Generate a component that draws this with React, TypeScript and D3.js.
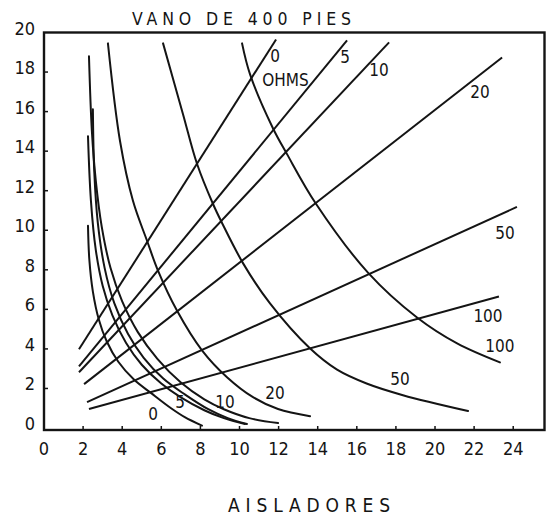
import React from "react";
import * as d3 from "d3";

type Pt = [number, number];

const xTicks = [0, 2, 4, 6, 8, 10, 12, 14, 16, 18, 20, 22, 24];
const yTicks = [0, 2, 4, 6, 8, 10, 12, 14, 16, 18, 20];

// rising straight lines (resistance in ohms)
const risingNames = ["0", "5", "10", "20", "50", "100"];
const rising0: Pt[] = [[1.79, 3.98], [11.87, 19.65]];
const rising5: Pt[] = [[1.79, 3.12], [15.5, 19.6]];
const rising10: Pt[] = [[1.79, 2.82], [17.65, 19.5]];
const rising20: Pt[] = [[2.05, 2.22], [23.43, 18.74]];
const rising50: Pt[] = [[2.2, 1.31], [24.19, 11.18]];
const rising100: Pt[] = [[2.3, 0.96], [23.27, 6.65]];
const risingLines = [rising0, rising5, rising10, rising20, rising50, rising100];

// falling curves
const fall0: Pt[] = [[2.25, 10.23], [2.32, 8.5], [2.5, 6.9], [2.8, 5.5], [3.2, 4.4], [3.8, 3.35], [4.6, 2.45], [5.5, 1.75], [6.5, 1.0], [7.2, 0.55], [8.08, 0.12]];
const fall5: Pt[] = [[2.25, 14.76], [2.4, 11.5], [2.65, 9.0], [3.0, 7.2], [3.5, 5.7], [4.2, 4.3], [5.0, 3.2], [6.0, 2.25], [7.0, 1.55], [8.2, 0.9], [9.2, 0.5], [10.28, 0.2]];
const fall5b: Pt[] = [[2.5, 16.12], [2.57, 13.0], [2.75, 10.4], [3.1, 8.1], [3.6, 6.3], [4.3, 4.75], [5.1, 3.55], [6.1, 2.5], [7.2, 1.7], [8.4, 0.95], [9.4, 0.5], [10.38, 0.2]];
const fall10: Pt[] = [[2.3, 18.8], [2.45, 15.0], [2.65, 12.5], [2.95, 10.2], [3.4, 8.1], [4.0, 6.4], [4.8, 4.85], [5.8, 3.5], [7.0, 2.3], [8.2, 1.45], [9.2, 0.95], [10.5, 0.5], [11.97, 0.25]];
const fall20: Pt[] = [[3.27, 19.45], [3.89, 14.5], [4.55, 11.49], [5.27, 9.47], [5.83, 7.96], [6.8, 5.94], [8.08, 3.93], [9.36, 2.57], [10.69, 1.56], [11.97, 0.96], [13.61, 0.6]];
const fall50: Pt[] = [[6.09, 19.45], [7.11, 15.87], [7.83, 13.35], [8.64, 11.34], [9.1, 10.38], [10.2, 8.3], [11.56, 6.3], [13.6, 4.03], [14.99, 2.95], [16.5, 2.25], [18.36, 1.66], [21.69, 0.86]];
const fall100: Pt[] = [[10.13, 19.45], [10.54, 17.88], [11.71, 15.16], [12.43, 13.85], [13.91, 11.34], [16.57, 7.86], [19.08, 5.59], [21.13, 4.28], [23.32, 3.32]];
const fallingCurves = [fall0, fall5, fall5b, fall10, fall20, fall50, fall100];

// curve labels (text, data x, data y)
const labelTexts = ["0", "OHMS", "5", "10", "20", "50", "100", "100", "50", "20", "10", "5", "0"];
const labelX = [11.82, 12.35, 15.4, 17.14, 22.3, 23.58, 22.71, 23.32, 18.21, 11.82, 9.26, 6.96, 5.58];
const labelY = [18.74, 17.53, 18.69, 18.04, 16.93, 9.82, 5.59, 4.08, 2.42, 1.71, 1.26, 1.26, 0.65];

const titleText = "VANO DE 400 PIES";
const xAxisTitle = "AISLADORES";

const W = 557;
const H = 525;
const FONT = "'DejaVu Sans Condensed', 'DejaVu Sans', sans-serif";
const INK = "#141414";

export default function App() {
  const x = d3.scaleLinear().domain([0, 25.6]).range([44, 544.5]);
  const y = d3.scaleLinear().domain([-0.1, 20]).range([430, 32.5]);

  const straight = d3.line<Pt>().x((d) => x(d[0])).y((d) => y(d[1]));
  const smooth = d3
    .line<Pt>()
    .x((d) => x(d[0]))
    .y((d) => y(d[1]))
    .curve(d3.curveCatmullRom.alpha(0.5));

  return (
    <svg
      width={W}
      height={H}
      style={{ position: "absolute", left: 0, top: 0, background: "#fff" }}
    >
      <rect x={0} y={0} width={W} height={H} fill="#fff" />
      {/* title */}
      <text
        x={132}
        y={25}
        textLength={219}
        lengthAdjust="spacing"
        fontFamily={FONT}
        fontSize={17.5}
        fill={INK}
      >
        {titleText}
      </text>

      {/* frame */}
      <rect
        x={x(0)}
        y={y(20)}
        width={x(25.6) - x(0)}
        height={y(-0.1) - y(20)}
        fill="none"
        stroke={INK}
        strokeWidth={2.4}
      />

      {/* x ticks */}
      {xTicks.map((t) => (
        <g key={"xt" + t}>
          {t > 0 && (
            <line x1={x(t)} x2={x(t)} y1={y(-0.1)} y2={y(-0.1) - 4} stroke={INK} strokeWidth={1.5} />
          )}
          <text
            x={x(t)}
            y={450}
            textAnchor="middle"
            dominantBaseline="middle"
            fontFamily={FONT}
            fontSize={18}
            fill={INK}
          >
            {t}
          </text>
        </g>
      ))}

      {/* y ticks */}
      {yTicks.map((t) => (
        <g key={"yt" + t}>
          {t > 0 && t < 20 && (
            <line x1={x(0)} x2={x(0) + 4} y1={y(t)} y2={y(t)} stroke={INK} strokeWidth={1.5} />
          )}
          <text
            x={35}
            y={y(t) - 3}
            textAnchor="end"
            dominantBaseline="middle"
            fontFamily={FONT}
            fontSize={18}
            fill={INK}
          >
            {t}
          </text>
        </g>
      ))}

      {/* rising lines */}
      {risingLines.map((pts, i) => (
        <path
          key={"r" + risingNames[i]}
          d={straight(pts) || ""}
          fill="none"
          stroke={INK}
          strokeWidth={2}
        />
      ))}

      {/* falling curves */}
      {fallingCurves.map((pts, i) => (
        <path
          key={"f" + i}
          d={smooth(pts) || ""}
          fill="none"
          stroke={INK}
          strokeWidth={2}
          strokeLinecap="round"
        />
      ))}

      {/* curve labels */}
      {labelTexts.map((t, i) => (
        <text
          key={"l" + i}
          x={x(labelX[i])}
          y={y(labelY[i])}
          textAnchor="middle"
          dominantBaseline="middle"
          fontFamily={FONT}
          fontSize={17}
          fill={INK}
        >
          {t}
        </text>
      ))}

      {/* x axis title */}
      <text
        x={228}
        y={506}
        textLength={162}
        lengthAdjust="spacing"
        dominantBaseline="middle"
        fontFamily={FONT}
        fontSize={19}
        fill={INK}
      >
        {xAxisTitle}
      </text>
    </svg>
  );
}
